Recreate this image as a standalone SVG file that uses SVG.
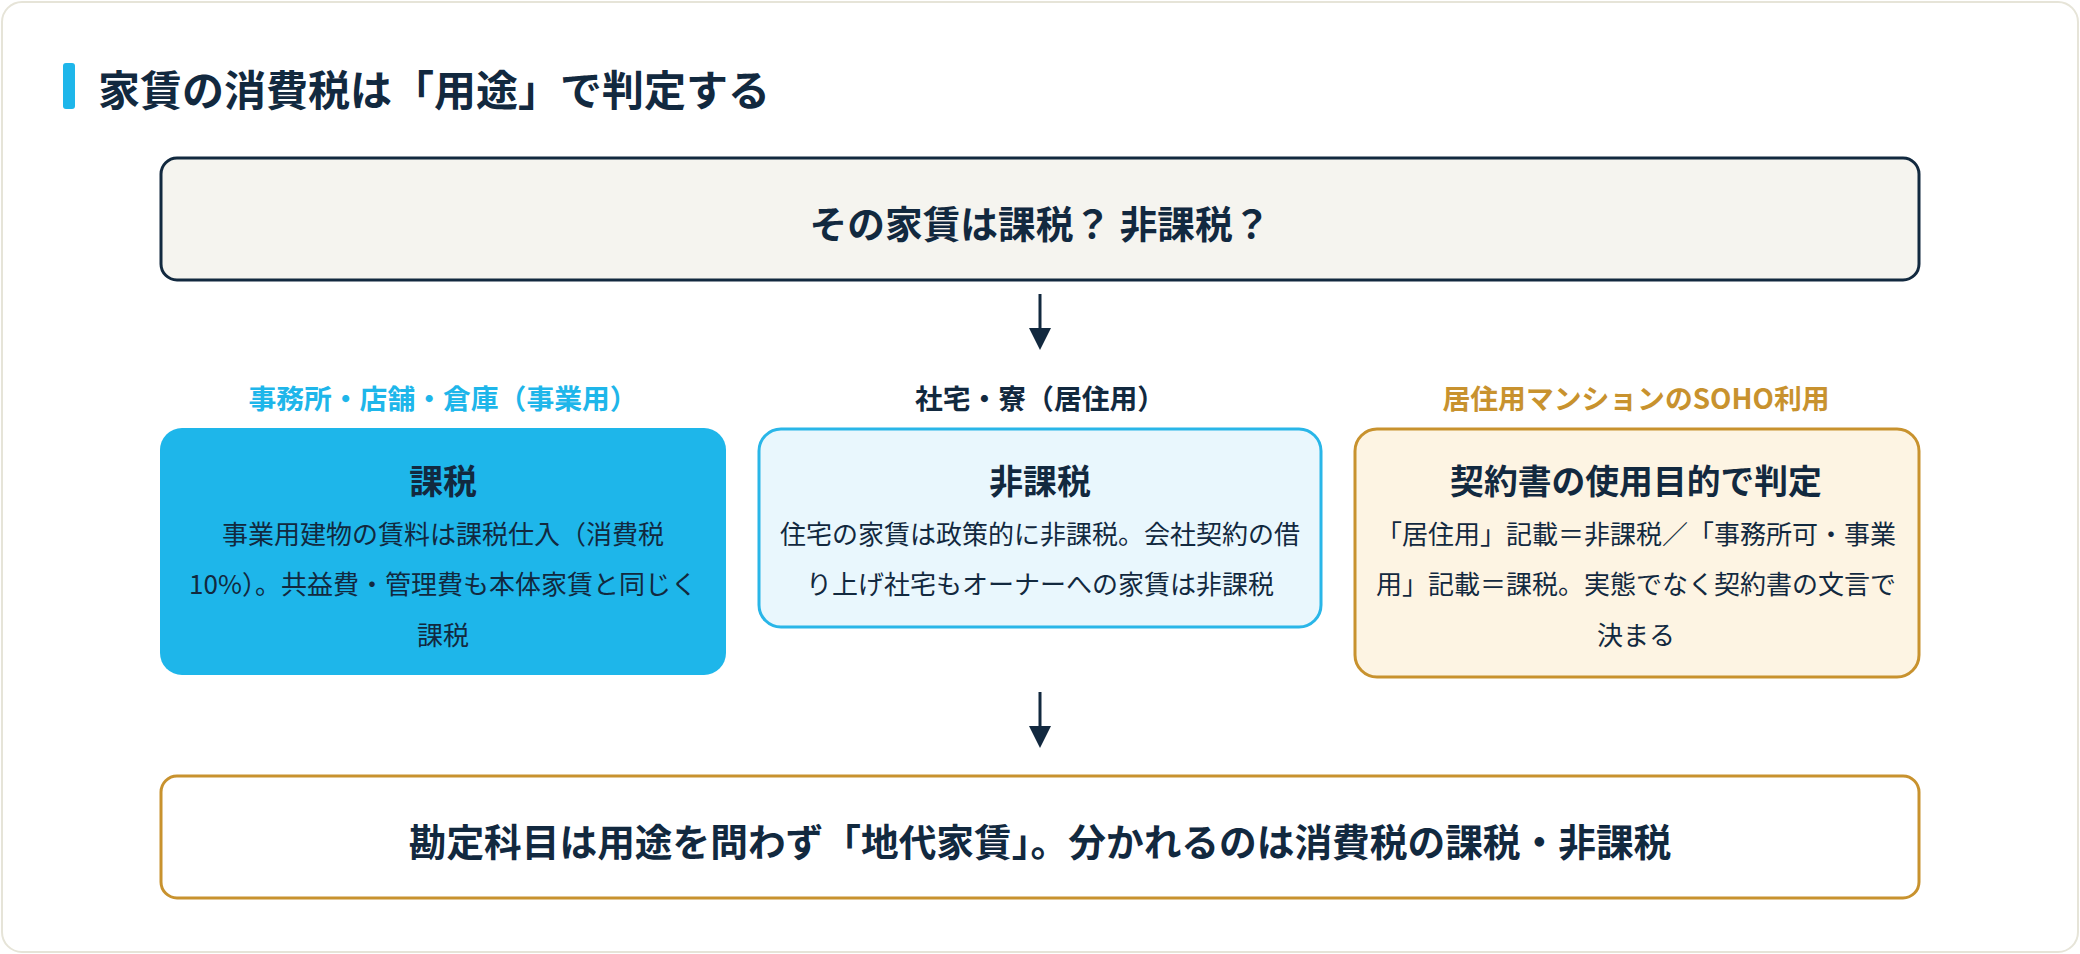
<svg xmlns="http://www.w3.org/2000/svg" width="2080" height="954" viewBox="0 0 2080 954">
<defs>
<style>
text{font-family:"Noto Sans CJK JP","Noto Sans",sans-serif;fill:#12293f;dominant-baseline:central;text-anchor:middle}
.b{font-weight:700}
.h1{font-size:42px;text-anchor:start}
.q{font-size:37.7px}
.lab{font-size:27.8px}
.tt{font-size:33.8px}
.bd{font-size:26px}
.cn{stroke:#12293f;stroke-width:3;fill:none}
</style>
</defs>
<rect x="2" y="2" width="2076" height="950" rx="20" fill="#ffffff" stroke="#e6e4d8" stroke-width="2"/>
<g id="title">
<rect x="63" y="63" width="12" height="46" rx="3" fill="#1eb6ea"/>
<text class="b h1" x="98" y="87">家賃の消費税は「用途」で判定する</text>
</g>
<g id="question">
<rect x="161" y="158" width="1758" height="122" rx="16" fill="#f5f4ef" stroke="#12293f" stroke-width="3"/>
<text class="b q" x="1040" y="221">その家賃は課税？ 非課税？</text>
</g>
<g id="connectors">
<line class="cn" x1="1040" y1="294" x2="1040" y2="330"/>
<path d="M1029 328 L1051 328 L1040 350 Z" fill="#12293f"/>
<line class="cn" x1="1040" y1="692" x2="1040" y2="728"/>
<path d="M1029 726 L1051 726 L1040 748 Z" fill="#12293f"/>
</g>
<g id="business">
<text class="b lab" x="443" y="397" style="fill:#1eb6ea">事務所・店舗・倉庫（事業用）</text>
<rect x="160" y="428" width="566" height="247" rx="22" fill="#1eb6ea"/>
<text class="b tt" x="443" y="479">課税</text>
<text class="bd" x="443" y="532">事業用建物の賃料は課税仕入（消費税</text>
<text class="bd" x="443" y="582">10%）。共益費・管理費も本体家賃と同じく</text>
<text class="bd" x="443" y="633">課税</text>
</g>
<g id="residential">
<text class="b lab" x="1040" y="397">社宅・寮（居住用）</text>
<rect x="759" y="429" width="562" height="198" rx="22" fill="#e9f7fd" stroke="#29b6e8" stroke-width="3"/>
<text class="b tt" x="1040" y="479">非課税</text>
<text class="bd" x="1040" y="532">住宅の家賃は政策的に非課税。会社契約の借</text>
<text class="bd" x="1040" y="582">り上げ社宅もオーナーへの家賃は非課税</text>
</g>
<g id="soho">
<text class="b lab" x="1636" y="397" style="fill:#c8922e">居住用マンションのSOHO利用</text>
<rect x="1355" y="429" width="564" height="248" rx="22" fill="#fdf4e3" stroke="#c8922e" stroke-width="3"/>
<text class="b tt" x="1636" y="479">契約書の使用目的で判定</text>
<text class="bd" x="1636" y="532">「居住用」記載＝非課税／「事務所可・事業</text>
<text class="bd" x="1636" y="582">用」記載＝課税。実態でなく契約書の文言で</text>
<text class="bd" x="1636" y="633">決まる</text>
</g>
<g id="conclusion">
<rect x="161" y="776" width="1758" height="122" rx="16" fill="#ffffff" stroke="#c8922e" stroke-width="3"/>
<text class="b q" x="1040" y="839">勘定科目は用途を問わず「地代家賃」。分かれるのは消費税の課税・非課税</text>
</g>
</svg>
